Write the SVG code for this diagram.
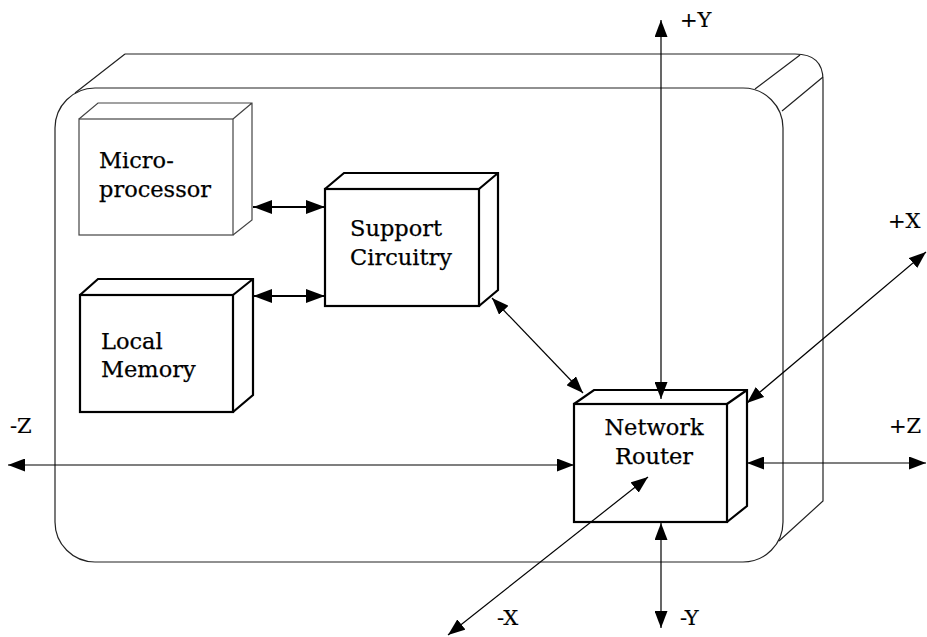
<svg xmlns="http://www.w3.org/2000/svg" width="927" height="637" viewBox="0 0 927 637">
<style>
.chassis{fill:none;stroke:#222;stroke-width:1.2}
.thin{fill:#fff;stroke:#444;stroke-width:1.2}
.thick{fill:#fff;stroke:#000;stroke-width:2.2}
.depth-thin{fill:none;stroke:#444;stroke-width:1.2}
.depth-thick{fill:none;stroke:#000;stroke-width:2.2}
.lbl{font-family:"DejaVu Serif","Liberation Serif",serif;font-size:22.5px;fill:#000;stroke:#000;stroke-width:0.25}
.axis{font-family:"DejaVu Serif","Liberation Serif",serif;font-size:21px;fill:#000;stroke:#000;stroke-width:0.2}
.conn{fill:none;stroke:#000;stroke-width:1.2}
.bus{fill:none;stroke:#000;stroke-width:2.2}
</style>
<defs>
<marker id="ah" markerUnits="userSpaceOnUse" markerWidth="17" markerHeight="13" refX="17" refY="6.5" orient="auto-start-reverse" viewBox="0 0 17 13">
<path d="M0,0 L17,6.5 L0,13 z" fill="#000"/>
</marker>
<marker id="ahb" markerUnits="userSpaceOnUse" markerWidth="19" markerHeight="14" refX="19" refY="7" orient="auto-start-reverse" viewBox="0 0 19 14">
<path d="M0,0 L19,7 L0,14 z" fill="#000"/>
</marker>
</defs>
<g id="chassis">
<rect class="chassis" x="55" y="88" width="728" height="474" rx="40" ry="40"/>
<path class="chassis" d="M125,54 L795,54 Q823,54 823,80 L823,501 L779,541"/>
<path class="chassis" d="M125,54 L75,93 M800,55 L755,89 M823,77 L782,111"/>
</g>
<g id="microprocessor">
<rect class="thin" x="79" y="119" width="154" height="116"/>
<path class="depth-thin" d="M79,119 L98,103 L252,103 L252,220 L233,235 M233,119 L252,103"/>
<text class="lbl" x="99" y="168">Micro-</text>
<text class="lbl" x="99" y="197">processor</text>
</g>
<g id="support">
<rect class="thick" x="325" y="189" width="154" height="117"/>
<path class="depth-thick" d="M325,189 L344,173 L498,173 L498,290 L479,306 M479,189 L498,173"/>
<text class="lbl" x="350" y="236">Support</text>
<text class="lbl" x="350" y="265">Circuitry</text>
</g>
<g id="memory">
<rect class="thick" x="80" y="295" width="153" height="117"/>
<path class="depth-thick" d="M80,295 L98,279 L253,279 L253,395 L233,412 M233,295 L253,279"/>
<text class="lbl" x="101" y="349">Local</text>
<text class="lbl" x="101" y="377">Memory</text>
</g>
<g id="router">
<rect class="thick" x="574" y="404" width="153" height="118"/>
<path class="depth-thick" d="M574,404 L594,390 L747,390 L747,506 L727,522 M727,404 L747,390"/>
<text class="lbl" x="654" y="435" text-anchor="middle">Network</text>
<text class="lbl" x="654" y="464" text-anchor="middle">Router</text>
</g>
<g id="connectors">
<line class="bus" x1="253" y1="207" x2="325" y2="207" marker-start="url(#ahb)" marker-end="url(#ahb)"/>
<line class="bus" x1="253" y1="296" x2="325" y2="296" marker-start="url(#ahb)" marker-end="url(#ahb)"/>
<line class="conn" x1="492" y1="298" x2="583" y2="393" marker-start="url(#ah)" marker-end="url(#ah)"/>
<line class="conn" x1="661" y1="20" x2="661" y2="399" marker-start="url(#ah)" marker-end="url(#ah)"/>
<line class="conn" x1="661" y1="523" x2="661" y2="628" marker-start="url(#ah)" marker-end="url(#ah)"/>
<line class="conn" x1="8" y1="465" x2="574" y2="465" marker-start="url(#ah)" marker-end="url(#ah)"/>
<line class="conn" x1="747" y1="463" x2="926" y2="463" marker-start="url(#ah)" marker-end="url(#ah)"/>
<line class="conn" x1="747" y1="403" x2="926" y2="252" marker-start="url(#ah)" marker-end="url(#ah)"/>
<line class="conn" x1="648" y1="477" x2="448" y2="635" marker-start="url(#ah)" marker-end="url(#ah)"/>
</g>
<g id="axis-labels">
<text class="axis" x="680" y="27">+Y</text>
<text class="axis" x="888" y="228">+X</text>
<text class="axis" x="10" y="433">-Z</text>
<text class="axis" x="889" y="433">+Z</text>
<text class="axis" x="497" y="625">-X</text>
<text class="axis" x="680" y="625">-Y</text>
</g>
</svg>
